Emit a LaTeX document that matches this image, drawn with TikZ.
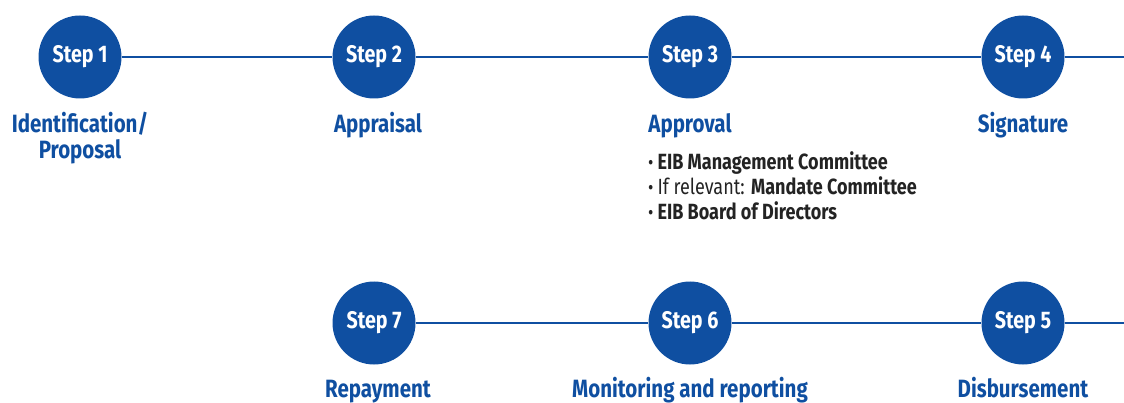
\documentclass[tikz,border=0pt]{standalone}
\usepackage{fontspec}
\setmainfont{Fira Sans}[FakeStretch=0.82]
\definecolor{eibblue}{RGB}{15,79,161}
\definecolor{bodytext}{RGB}{35,35,35}
\newcommand{\dotmark}{{\fontsize{20}{20}\selectfont\mdseries •}\hspace{4pt}}
\begin{document}
\begin{tikzpicture}[x=1pt,y=-1pt,
  stepdot/.style={circle,fill=eibblue,minimum size=83pt,inner sep=0pt,
    text=white,font=\fontsize{24}{24}\selectfont\bfseries},
  steplabel/.style={text=eibblue,align=center,anchor=base,inner sep=0pt,
    font=\fontsize{25}{26}\selectfont\bfseries},
  link/.style={draw=eibblue,line width=2pt},
  bullets/.style={text=bodytext,align=left,anchor=base west,inner sep=0pt,
    font=\fontsize{22}{25}\selectfont}]
\useasboundingbox (0,0) rectangle (1124,403);
% top row
\node[stepdot] (s1) at (80,57) {Step 1};
\node[stepdot] (s2) at (374,57) {Step 2};
\node[stepdot] (s3) at (690,57) {Step 3};
\node[stepdot] (s4) at (1023,57) {Step 4};
\coordinate (e1) at (1124,57);
% bottom row
\node[stepdot] (s7) at (374,323) {Step 7};
\node[stepdot] (s6) at (690,323) {Step 6};
\node[stepdot] (s5) at (1023,323) {Step 5};
\coordinate (e2) at (1124,323);
\path[link] (s1) -- (s2) (s2) -- (s3) (s3) -- (s4) (s4) -- (e1);
\path[link] (s7) -- (s6) (s6) -- (s5) (s5) -- (e2);
% step labels (base anchor sits on the last line)
\node[steplabel] (l1) at (80,159) {Identification/\\Proposal};
\node[steplabel] (l2) at (378,133) {Appraisal};
\node[steplabel] (l3) at (690,133) {Approval};
\node[steplabel] (l4) at (1023,133) {Signature};
\node[steplabel] (l7) at (378,397) {Repayment};
\node[steplabel] (l6) at (690,397) {Monitoring and reporting};
\node[steplabel] (l5) at (1023,397) {Disbursement};
% approval bodies
\node[bullets] (b3) at (648,220) {%
  \dotmark\textbf{EIB Management Committee}\\
  \dotmark If relevant: \textbf{Mandate Committee}\\
  \dotmark\textbf{EIB Board of Directors}};
\end{tikzpicture}
\end{document}
